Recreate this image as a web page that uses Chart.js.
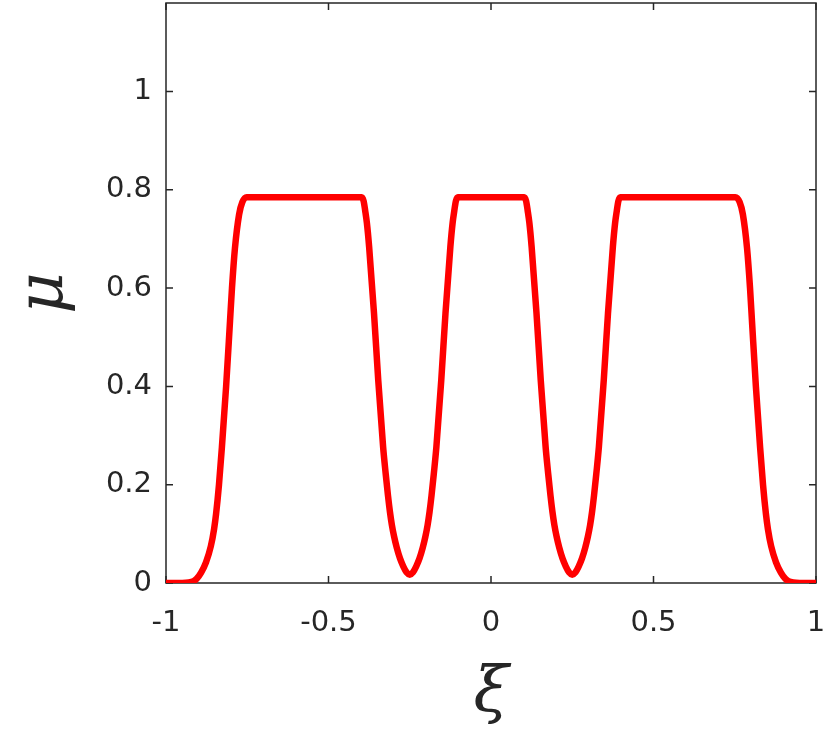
<!DOCTYPE html>
<html>
<head>
<meta charset="utf-8">
<script src="https://cdn.jsdelivr.net/npm/chart.js@4/dist/chart.umd.min.js"></script>
<style>
  html, body { margin: 0; padding: 0; background: #fff; }
  #wrap { width: 830px; height: 738px; }
</style>
</head>
<body>
<div id="wrap"><canvas id="muChart" width="830" height="738"></canvas></div>
<script>
// values
const xi = [-1, -0.95, -0.93, -0.915, -0.905, -0.892, -0.877, -0.862, -0.852, -0.846, -0.837, -0.828, -0.815, -0.803, -0.797, -0.788, -0.775, -0.765, -0.752,
            -0.6, -0.398, -0.392, -0.387, -0.382, -0.375, -0.36, -0.347, -0.332, -0.324, -0.317, -0.311, -0.305, -0.298, -0.29, -0.28, -0.27, -0.26, -0.25,
            -0.24, -0.23, -0.22, -0.21, -0.202, -0.195, -0.189, -0.183, -0.176, -0.168, -0.153, -0.14, -0.125, -0.118, -0.113, -0.108, -0.102,
            0, 0.102, 0.108, 0.113, 0.118, 0.125, 0.14, 0.153, 0.168, 0.176, 0.183, 0.189, 0.195, 0.202, 0.21, 0.22, 0.23, 0.24, 0.25,
            0.26, 0.27, 0.28, 0.29, 0.298, 0.305, 0.311, 0.317, 0.324, 0.332, 0.347, 0.36, 0.375, 0.382, 0.387, 0.392, 0.398, 0.6,
            0.752, 0.765, 0.775, 0.788, 0.797, 0.803, 0.815, 0.828, 0.837, 0.846, 0.852, 0.862, 0.877, 0.892, 0.905, 0.915, 0.93, 0.95, 1];
const mu = [0, 0, 0.001, 0.004, 0.009, 0.021, 0.042, 0.075, 0.11, 0.14, 0.2, 0.276, 0.4, 0.533, 0.6, 0.68, 0.75, 0.775, 0.785,
            0.785, 0.785, 0.777, 0.757, 0.733, 0.684, 0.549, 0.413, 0.277, 0.222, 0.178, 0.145, 0.118, 0.094, 0.072, 0.05, 0.034, 0.022, 0.017,
            0.022, 0.034, 0.05, 0.072, 0.094, 0.118, 0.145, 0.178, 0.222, 0.277, 0.413, 0.549, 0.684, 0.733, 0.757, 0.777, 0.785,
            0.785, 0.785, 0.777, 0.757, 0.733, 0.684, 0.549, 0.413, 0.277, 0.222, 0.178, 0.145, 0.118, 0.094, 0.072, 0.05, 0.034, 0.022, 0.017,
            0.022, 0.034, 0.05, 0.072, 0.094, 0.118, 0.145, 0.178, 0.222, 0.277, 0.413, 0.549, 0.684, 0.733, 0.757, 0.777, 0.785, 0.785,
            0.785, 0.775, 0.75, 0.68, 0.6, 0.533, 0.4, 0.276, 0.2, 0.14, 0.11, 0.075, 0.042, 0.021, 0.009, 0.004, 0.001, 0, 0];

const xTicks = [-1, -0.5, 0, 0.5, 1];
const xTickLabels = ['-1', '-0.5', '0', '0.5', '1'];
const yTicks = [0, 0.2, 0.4, 0.6, 0.8, 1];
const yTickLabels = ['0', '0.2', '0.4', '0.6', '0.8', '1'];

const axisColor = '#262626';

// box round the plot with inward ticks, like matlab "box on"
const boxPlugin = {
    id: 'boxTicks',
    beforeDatasetsDraw(chart) {
        const {ctx, chartArea: a, scales} = chart;
        const len = 7;
        ctx.save();
        ctx.strokeStyle = axisColor;
        ctx.lineWidth = 1.5;
        ctx.strokeRect(a.left, a.top, a.right - a.left, a.bottom - a.top);
        ctx.beginPath();
        xTicks.forEach(v => {
            const px = scales.x.getPixelForValue(v);
            ctx.moveTo(px, a.bottom); ctx.lineTo(px, a.bottom - len);
            ctx.moveTo(px, a.top); ctx.lineTo(px, a.top + len);
        });
        yTicks.forEach(v => {
            const py = scales.y.getPixelForValue(v);
            ctx.moveTo(a.left, py); ctx.lineTo(a.left + len, py);
            ctx.moveTo(a.right, py); ctx.lineTo(a.right - len, py);
        });
        ctx.stroke();
        ctx.restore();
    }
};

const tickFont = { family: '"DejaVu Sans", "Liberation Sans", sans-serif', size: 29 };
const titleFont = { family: '"DejaVu Serif", "Liberation Serif", serif', size: 64, style: 'italic' };

new Chart(document.getElementById('muChart'), {
    type: 'line',
    data: {
        datasets: [{
            data: xi.map((x, i) => ({ x: x, y: mu[i] })),
            borderColor: '#ff0000',
            borderWidth: 6.5,
            pointRadius: 0,
            cubicInterpolationMode: 'monotone',
            borderJoinStyle: 'round',
            borderCapStyle: 'round',
            fill: false
        }]
    },
    options: {
        responsive: false,
        animation: false,
        layout: { padding: { top: 3, right: 14, left: 0, bottom: 0 } },
        plugins: { legend: { display: false }, tooltip: { enabled: false } },
        scales: {
            x: {
                type: 'linear',
                min: -1, max: 1,
                afterBuildTicks: s => { s.ticks = xTicks.map(v => ({ value: v })); },
                afterFit: s => { s.height = 155; s.paddingLeft = 0; s.paddingRight = 0; },
                grid: { display: false, drawTicks: false },
                border: { display: false },
                ticks: {
                    color: axisColor, font: tickFont, padding: 23, maxRotation: 0,
                    callback: v => xTickLabels[xTicks.indexOf(v)]
                },
                title: { display: true, text: 'ξ', color: axisColor, font: titleFont, padding: { top: 0, bottom: 5 } }
            },
            y: {
                min: 0, max: 1.18,
                afterBuildTicks: s => { s.ticks = yTicks.map(v => ({ value: v })); },
                afterFit: s => { s.width = 166; s.paddingTop = 0; s.paddingBottom = 0; },
                grid: { display: false, drawTicks: false },
                border: { display: false },
                ticks: {
                    color: axisColor, font: tickFont, padding: 14,
                    callback: v => yTickLabels[yTicks.indexOf(v)]
                },
                title: { display: true, text: 'μ', color: axisColor, font: titleFont, padding: { top: 7, bottom: 0 } }
            }
        }
    },
    plugins: [boxPlugin]
});
</script>
</body>
</html>
